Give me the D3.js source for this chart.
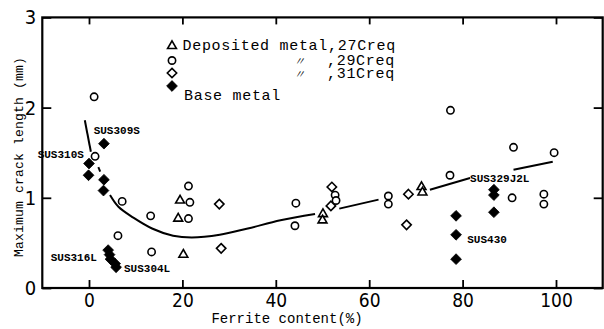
<!DOCTYPE html>
<html>
<head>
<meta charset="utf-8">
<script src="https://cdn.jsdelivr.net/npm/d3@7/dist/d3.min.js"></script>
<style>
  html, body { margin: 0; padding: 0; background: #fff; }
  svg { display: block; }
  .tick text { font-family: "Liberation Sans Narrow", "DejaVu Sans Condensed", "Liberation Sans", sans-serif; font-stretch: condensed; }
</style>
</head>
<body>
<svg id="chart" width="604" height="329"></svg>
<script>
// Ferrite content (%) vs. maximum crack length (mm)
const xTicks = [0, 20, 40, 60, 80, 100];
const yTicks = [0, 1, 2, 3];

// Deposited metal, 27Creq (open triangles)
const depo27 = [[19.5, 0.97], [19.1, 0.77], [20.2, 0.37], [50.1, 0.82], [50.0, 0.75], [71.2, 1.12], [71.4, 1.06]];
// Deposited metal, 29Creq (open circles)
const depo29 = [[1.1, 2.12], [1.3, 1.46], [7.1, 0.96], [13.2, 0.80], [6.2, 0.58], [13.4, 0.40],
  [21.3, 1.13], [21.6, 0.95], [21.3, 0.77], [44.3, 0.94], [44.1, 0.69], [52.7, 1.03], [52.9, 0.97],
  [64.1, 1.02], [64.1, 0.93], [77.4, 1.97], [77.3, 1.25], [90.9, 1.56], [99.6, 1.50], [90.6, 1.00],
  [97.4, 1.04], [97.4, 0.93]];
// Deposited metal, 31Creq (open diamonds)
const depo31 = [[27.9, 0.93], [28.3, 0.44], [52.0, 1.12], [51.8, 0.91], [68.4, 1.04], [68.0, 0.70]];
// Base metal (filled diamonds)
const baseMetal = [[3.2, 1.60], [0.0, 1.38], [-0.1, 1.25], [3.2, 1.20], [3.1, 1.08],
  [4.1, 0.42], [4.4, 0.37], [4.6, 0.32], [5.6, 0.27], [5.8, 0.23],
  [86.7, 1.09], [86.7, 1.03], [86.7, 0.84], [78.6, 0.80], [78.6, 0.59], [78.6, 0.32]];

// Trend curve, drawn in pieces (interrupted around markers and labels)
const trendPieces = [
  [[-0.9, 1.86], [0.4, 1.51]],
  [[2.0, 1.34], [2.4, 1.29]],
  [[4.5, 1.03], [6.3, 0.90], [9.5, 0.78], [13.5, 0.66], [18, 0.58], [22, 0.56], [28, 0.59], [34, 0.66], [41, 0.75], [48.4, 0.82]],
  [[53.6, 0.88], [62.0, 0.98]],
  [[73.0, 1.09], [81.6, 1.22]],
  [[90.9, 1.31], [99.3, 1.40]]
];

// Grade labels: [text, ferrite %, crack length at text baseline]
const gradeLabels = [
  ["SUS309S", 1.0, 1.71],
  ["SUS310S", -11.0, 1.44],
  ["SUS316L", -8.2, 0.30],
  ["SUS304L", 7.5, 0.18],
  ["SUS430", 81.0, 0.50],
  ["SUS329J2L", 81.6, 1.18]
];

const legendRows = [
  { type: "triangle", name: "Deposited metal", ditto: false, suffix: ",27Creq" },
  { type: "circle", name: "", ditto: true, suffix: ",29Creq" },
  { type: "diamond", name: "", ditto: true, suffix: ",31Creq" },
  { type: "filled", name: "Base metal", ditto: false, suffix: "" }
];

const svg = d3.select("#chart");
const x = d3.scaleLinear().domain([-10, 110]).range([42.3, 602.7]);
const y = d3.scaleLinear().domain([0, 3]).range([288, 17.4]);

// square-ish diamond symbol
const squareDiamond = {
  draw(ctx, size) {
    const r = Math.sqrt(size / 2);
    ctx.moveTo(0, -r); ctx.lineTo(r, 0); ctx.lineTo(0, r); ctx.lineTo(-r, 0); ctx.closePath();
  }
};
const sym = {
  triangle: d3.symbol().type(d3.symbolTriangle).size(34),
  circle: d3.symbol().type(d3.symbolCircle).size(42),
  diamond: d3.symbol().type(squareDiamond).size(44),
  filled: d3.symbol().type(squareDiamond).size(58)
};
function styleMarker(sel, type) {
  if (type === "filled") sel.attr("fill", "#000").attr("stroke", "#000").attr("stroke-width", 0.8);
  else sel.attr("fill", "#fff").attr("stroke", "#000").attr("stroke-width", 1.6);
}

// axes (ticks pointing inward)
const fr = x.range(), yr = y.range();
svg.append("g").attr("transform", `translate(0,${yr[0]})`)
  .call(d3.axisBottom(x).tickValues(xTicks).tickSize(-8).tickPadding(6))
  .call(g => g.select(".domain").remove())
  .call(g => g.selectAll("text").attr("font-size", 19).attr("fill", "#000"));
svg.append("g").attr("transform", `translate(0,${yr[1]})`)
  .call(d3.axisTop(x).tickValues(xTicks).tickSize(-7).tickFormat(""))
  .call(g => g.select(".domain").remove());
svg.append("g").attr("transform", `translate(${fr[0]},0)`)
  .call(d3.axisLeft(y).tickValues(yTicks).tickSize(-9).tickPadding(6).tickFormat(d3.format("d")))
  .call(g => g.select(".domain").remove())
  .call(g => g.selectAll("text").attr("font-size", 20).attr("fill", "#000"));
svg.append("g").attr("transform", `translate(${fr[1]},0)`)
  .call(d3.axisRight(y).tickValues(yTicks).tickSize(-9).tickFormat(""))
  .call(g => g.select(".domain").remove());
svg.selectAll(".tick line").attr("stroke", "#000").attr("stroke-width", 1.8);

// frame
svg.append("rect")
  .attr("x", fr[0]).attr("y", yr[1])
  .attr("width", fr[1] - fr[0]).attr("height", yr[0] - yr[1])
  .attr("fill", "none").attr("stroke", "#000").attr("stroke-width", 2.2);

// trend curve
const line = d3.line().x(d => x(d[0])).y(d => y(d[1])).curve(d3.curveCatmullRom.alpha(0.5));
svg.append("g").selectAll("path").data(trendPieces).join("path")
  .attr("d", line).attr("fill", "none").attr("stroke", "#000").attr("stroke-width", 2);

// markers
function plot(data, type) {
  svg.append("g").selectAll("path").data(data).join("path")
    .attr("transform", d => `translate(${x(d[0])},${y(d[1])})`)
    .attr("d", sym[type])
    .call(s => styleMarker(s, type));
}
plot(depo27, "triangle");
plot(depo29, "circle");
plot(depo31, "diamond");
plot(baseMetal, "filled");

// grade labels
svg.append("g").selectAll("text").data(gradeLabels).join("text")
  .attr("x", d => x(d[1])).attr("y", d => y(d[2]))
  .attr("font-family", "'Liberation Mono', 'DejaVu Sans Mono', monospace")
  .attr("font-weight", "bold").attr("font-size", 11)
  .text(d => d[0]);

// legend
const legend = svg.append("g").attr("font-family", "'Liberation Mono', 'DejaVu Sans Mono', monospace")
  .attr("font-size", 15).attr("letter-spacing", 0.7);
const rowBase = [50, 65, 78, 100];
const rowMark = [46, 60.5, 73, 86];
legendRows.forEach((r, i) => {
  legend.append("path").attr("transform", `translate(172,${rowMark[i]})`)
    .attr("d", sym[r.type]).call(s => styleMarker(s, r.type));
  const tx = r.type === "filled" ? 184 : 182.5;
  if (r.name) legend.append("text").attr("x", tx).attr("y", rowBase[i]).text(r.name + r.suffix);
  if (r.ditto) {
    legend.append("text").attr("x", 294).attr("y", rowBase[i])
      .attr("font-family", "'Noto Sans CJK JP', sans-serif").attr("font-size", 11)
      .attr("letter-spacing", 0).attr("font-style", "italic").text("〃");
    legend.append("text").attr("x", 327).attr("y", rowBase[i]).text(r.suffix);
  }
});

// axis titles
svg.append("text")
  .attr("x", 287).attr("y", 323).attr("text-anchor", "middle")
  .attr("font-family", "'Liberation Mono', 'DejaVu Sans Mono', monospace").attr("font-size", 14)
  .text("Ferrite content(%)");
svg.append("text")
  .attr("transform", "translate(23,157) rotate(-90)").attr("text-anchor", "middle")
  .attr("font-family", "'Liberation Mono', 'DejaVu Sans Mono', monospace").attr("font-size", 13)
  .attr("letter-spacing", 0.2)
  .text("Maximum crack length (mm)");
</script>
</body>
</html>
